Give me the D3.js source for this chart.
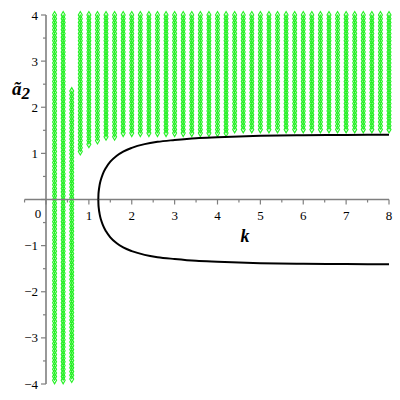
<!DOCTYPE html>
<html>
<head>
<meta charset="utf-8">
<script src="https://cdnjs.cloudflare.com/ajax/libs/d3/7.8.5/d3.min.js"></script>
<style>
	body { margin: 0; background: #fff; }
	svg text { font-family: "Times New Roman", "Liberation Serif", "DejaVu Serif", serif; }
</style>
</head>
<body>
<svg id="chart" width="400" height="400"></svg>
<script>
// columns of sampled points (k, lower bound, upper bound)
const colK = [0.2, 0.4, 0.6, 0.8, 1.0, 1.2, 1.4, 1.6, 1.8, 2.0,
	2.2, 2.4, 2.6, 2.8, 3.0, 3.2, 3.4, 3.6, 3.8, 4.0,
	4.2, 4.4, 4.6, 4.8, 5.0, 5.2, 5.4, 5.6, 5.8, 6.0,
	6.2, 6.4, 6.6, 6.8, 7.0, 7.2, 7.4, 7.6, 7.8, 8.0];
const colLow = [-3.92, -3.92, -3.92, 1.0, 1.18, 1.27, 1.32, 1.35, 1.38, 1.38,
	1.38, 1.38, 1.38, 1.38, 1.38, 1.38, 1.38, 1.38, 1.38, 1.38,
	1.38, 1.46, 1.46, 1.46, 1.46, 1.46, 1.46, 1.46, 1.46, 1.46,
	1.46, 1.46, 1.46, 1.46, 1.46, 1.46, 1.46, 1.46, 1.46, 1.46];
const colHigh = [4, 4, 2.35, 4, 4, 4, 4, 4, 4, 4,
	4, 4, 4, 4, 4, 4, 4, 4, 4, 4,
	4, 4, 4, 4, 4, 4, 4, 4, 4, 4,
	4, 4, 4, 4, 4, 4, 4, 4, 4, 4];

// boundary curve, upper branch (lower branch is its mirror)
const curveK = [1.22, 1.223, 1.23, 1.25, 1.28, 1.32, 1.4, 1.5, 1.65, 1.8, 2.0, 2.3, 2.6, 3.0, 3.5, 4.0, 5.0, 6.0, 7.0, 8.0];
const curveA = [0, 0.1, 0.18, 0.31, 0.43, 0.54, 0.69, 0.82, 0.95, 1.04, 1.12, 1.2, 1.25, 1.29, 1.33, 1.35, 1.38, 1.395, 1.40, 1.405];

const xTicks = [1, 2, 3, 4, 5, 6, 7, 8];
const yTicks = [-4, -3, -2, -1, 1, 2, 3, 4];

const svg = d3.select("#chart");
const x = d3.scaleLinear().domain([0, 8]).range([46, 389]);
const y = d3.scaleLinear().domain([-4, 4]).range([384, 15]);
const axisColor = "#7f7f7f";

// green sampled region
const step = 0.08;
const pts = [];
colK.forEach((k, i) => {
	for (let v = colHigh[i]; v >= colLow[i] - 1e-6; v -= step) {
		pts.push([k, v]);
	}
});
svg.append("g").selectAll("path")
	.data(pts)
	.join("path")
	.attr("d", d3.symbol(d3.symbolDiamond, 14))
	.attr("transform", d => `translate(${x(d[0])},${y(d[1])})`)
	.attr("fill", "none")
	.attr("stroke", "#22f022")
	.attr("stroke-width", 1.1);

// axes
const gx = svg.append("g").attr("transform", `translate(0,${y(0)})`);
gx.append("line")
	.attr("x1", x(-0.5)).attr("x2", x(8))
	.attr("stroke", axisColor).attr("stroke-width", 1.6);
gx.selectAll(".minor")
	.data(d3.range(-0.5, 8.01, 0.5))
	.join("line")
	.attr("x1", d => x(d)).attr("x2", d => x(d))
	.attr("y1", 0).attr("y2", d => Number.isInteger(d) ? 5 : 3)
	.attr("stroke", axisColor).attr("stroke-width", 1.2);
gx.selectAll(".lbl")
	.data(xTicks)
	.join("text")
	.attr("x", d => x(d)).attr("y", 20)
	.attr("text-anchor", "middle")
	.attr("font-size", 13)
	.text(d => d);
gx.append("text")
	.attr("x", 38).attr("y", 18)
	.attr("text-anchor", "middle")
	.attr("font-size", 13)
	.text("0");

const gy = svg.append("g").attr("transform", `translate(${x(0)},0)`);
gy.append("line")
	.attr("y1", y(-4)).attr("y2", y(4))
	.attr("stroke", axisColor).attr("stroke-width", 1.6);
gy.selectAll(".minor")
	.data(d3.range(-4, 4.01, 0.5))
	.join("line")
	.attr("y1", d => y(d)).attr("y2", d => y(d))
	.attr("x1", 0).attr("x2", d => Number.isInteger(d) ? -5 : -3)
	.attr("stroke", axisColor).attr("stroke-width", 1.2);
gy.selectAll(".lbl")
	.data(yTicks)
	.join("text")
	.attr("x", -8).attr("y", d => y(d) + 4.5)
	.attr("text-anchor", "end")
	.attr("font-size", 13)
	.text(d => d3.format("d")(d));

// boundary curve
const line = d3.line()
	.x(d => x(d[0]))
	.y(d => y(d[1]))
	.curve(d3.curveMonotoneX);
[1, -1].forEach(s => {
	svg.append("path")
		.datum(curveK.map((k, i) => [k, s * curveA[i]]))
		.attr("d", line)
		.attr("fill", "none")
		.attr("stroke", "#000")
		.attr("stroke-width", 2);
});

// axis titles
svg.append("text")
	.attr("x", 245).attr("y", 242)
	.attr("text-anchor", "middle")
	.attr("font-size", 18)
	.attr("font-weight", "bold")
	.attr("font-style", "italic")
	.text("k");
const yl = svg.append("text")
	.attr("x", 12).attr("y", 95)
	.attr("font-size", 19)
	.attr("font-weight", "bold")
	.attr("font-style", "italic");
yl.append("tspan").text("ã");
yl.append("tspan").attr("dy", 4).attr("font-size", 17).text("2");
</script>
</body>
</html>
